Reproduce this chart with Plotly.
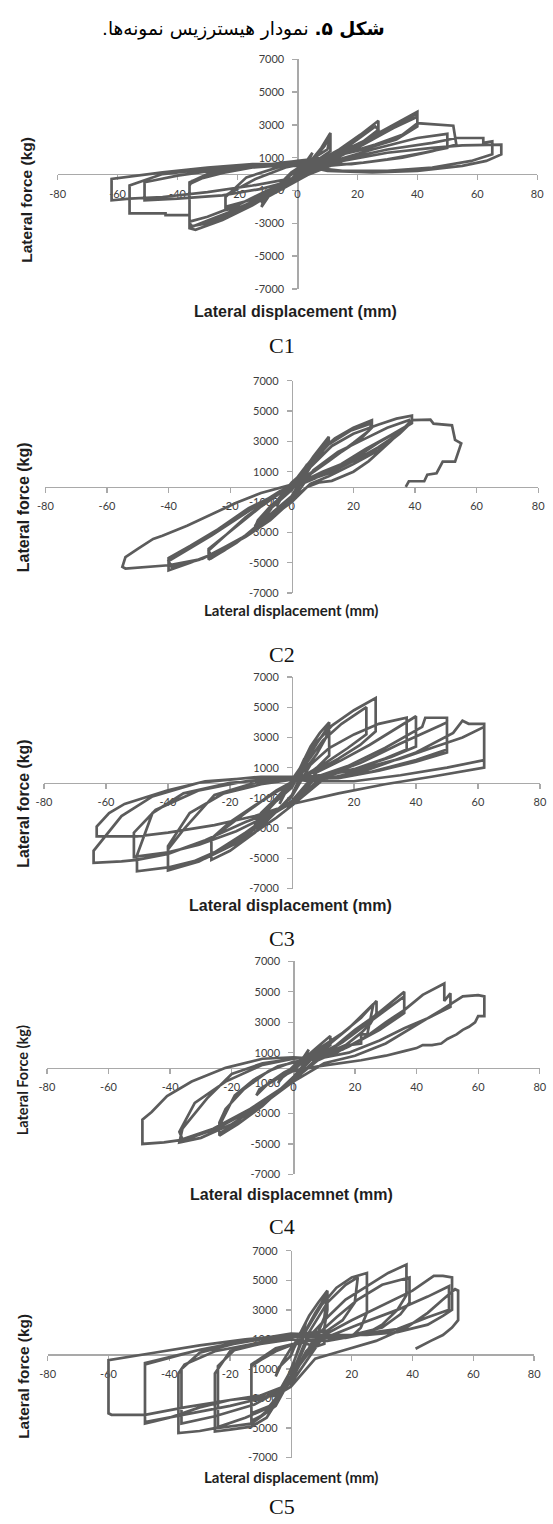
import plotly.graph_objects as go

W, H = 553, 1524

# ---------------- data (displacement mm, force kg) ----------------
c1_pts = [
    (0, 0), (3, 800), (5, 1300), (4, 900), (1, 300), (-3, -500), (-5, -1000), (-4, -700), (-1, -200),
    (4, 700), (8, 1600), (11, 2500), (11, 1400), (7, 900), (2, 500), (-4, -300), (-9, -1200), (-12, -2000), (-11, -1500), (-6, -900), (-1, -300),
    (5, 800), (9, 1700), (11, 2300), (10, 1500), (4, 800), (-2, 100), (-8, -1000), (-12, -1800), (-10, -1300), (-4, -600), (0, -200),
    (6, 700), (14, 1500), (21, 2400), (27, 3250), (27, 2400), (20, 1700), (12, 1100), (4, 700), (-4, 400), (-14, -300), (-24, -1300), (-24, -2200), (-19, -2000), (-10, -1300), (-3, -600),
    (8, 800), (17, 1700), (26, 2900), (27, 2700), (22, 2000), (14, 1300), (5, 800), (-5, 500), (-17, -200), (-24, -1400), (-24, -2000), (-16, -1600), (-6, -900), (0, -300),
    (10, 900), (20, 1800), (30, 2800), (40, 3800), (40, 3100), (35, 2400), (26, 1800), (15, 1200), (5, 900), (-5, 700), (-20, 300), (-35, -400), (-36, -700), (-36, -3300), (-34, -3400), (-25, -2800), (-15, -1900), (-6, -900), (0, -300),
    (10, 800), (22, 1900), (32, 2900), (40, 3700), (40, 2900), (33, 2100), (22, 1500), (10, 1000), (0, 800), (-15, 400), (-30, -100), (-36, -600), (-36, -3200), (-30, -3000), (-20, -2300), (-10, -1400), (0, -400),
    (10, 700), (22, 1800), (32, 2800), (40, 3500), (40, 3100), (52, 2950), (53, 1800), (45, 1400), (35, 1000), (22, 700), (10, 500), (0, 600), (-15, 400), (-30, 0), (-36, -500), (-36, -3000), (-35, -3200), (-28, -2700), (-18, -2000), (-8, -1100), (0, -400),
    (12, 800), (25, 1500), (40, 2200), (50, 2450), (50, 1600), (42, 1300), (30, 900), (18, 600), (5, 600), (-10, 500), (-25, 300), (-40, -100), (-51, -500), (-51, -1600), (-40, -1500), (-25, -1300), (-12, -900), (0, -300),
    (15, 900), (30, 1500), (45, 1900), (53, 2200), (62, 2200), (62, 1900), (65, 2000), (65, 1200), (58, 800), (45, 400), (30, 200), (15, 200), (0, 500), (-15, 500), (-30, 300), (-45, 0), (-56, -700), (-56, -2400), (-44, -2400), (-44, -2500), (-36, -2500), (-36, -2900), (-30, -2600), (-20, -1900), (-10, -1000), (0, -300),
    (15, 800), (30, 1300), (45, 1600), (55, 1750), (68, 1800), (68, 1200), (63, 800), (55, 500), (40, 200), (25, 100), (10, 200), (0, 600), (-15, 600), (-30, 400), (-45, 100), (-62, -300), (-62, -1600), (-56, -1500), (-45, -1400), (-30, -1100), (-15, -700), (0, -200),
]

c2_pts = [
    (0, 0), (2, 600), (5, 1500), (4, 1100), (0, 200), (-3, -600), (-5, -1300), (-4, -900), (0, -200),
    (3, 800), (7, 2000), (10, 2800), (12, 3300), (12, 2900), (9, 2100), (5, 1200), (0, 300), (-4, -700), (-8, -1800), (-12, -2700), (-11, -2200), (-7, -1300), (-2, -400),
    (4, 1200), (8, 2200), (12, 3200), (11, 2600), (6, 1500), (1, 400), (-5, -1000), (-12, -2600), (-10, -2000), (-4, -900), (0, -200),
    (5, 1300), (9, 2300), (14, 3200), (20, 3900), (26, 4400), (26, 3900), (22, 3100), (16, 2300), (9, 1300), (3, 500), (-3, -300), (-10, -1300), (-18, -2600), (-27, -4100), (-27, -4800), (-22, -4200), (-15, -3200), (-8, -2000), (0, -600),
    (6, 1500), (12, 2800), (19, 3700), (26, 4200), (25, 3700), (20, 2900), (12, 1700), (5, 700), (-5, -500), (-15, -2000), (-27, -4200), (-26, -4700), (-18, -3700), (-8, -2100), (0, -700),
    (6, 1300), (13, 2700), (20, 3500), (28, 4100), (34, 4500), (39, 4700), (39, 4200), (34, 3600), (28, 2900), (22, 2100), (15, 1300), (8, 600), (2, 100), (-5, -500), (-14, -1400), (-24, -2800), (-33, -3900), (-40, -4700), (-40, -5500), (-33, -5000), (-24, -4300), (-15, -3300), (-7, -2200), (0, -900),
    (7, 1100), (15, 2300), (23, 3100), (31, 3900), (38, 4400), (38, 4100), (32, 3400), (24, 2500), (16, 1500), (10, 1000), (4, 400), (-4, -300), (-14, -1600), (-26, -3200), (-40, -4900), (-39, -5300), (-30, -4800), (-20, -3900), (-10, -2500), (0, -1000),
    (6, 200), (12, 700), (20, 1500), (28, 2400), (35, 3500), (38, 4100), (36, 3700), (28, 2600), (20, 1700), (12, 900), (5, 400), (0, 150),
    (-10, -400), (-18, -1050), (-26, -1800), (-34, -2560), (-42, -3220), (-45, -3430), (-50, -4090), (-54, -4630), (-55, -5280), (-54, -5390), (-40, -5170), (-29, -4740), (-22, -4000), (-15, -3220), (-10, -2500), (-5, -1700), (0, -830),
    (5, 0), (9, 300), (13, 400), (20, 1000), (25, 1700), (32, 3000), (38, 4200), (39, 4400), (45, 4430), (46, 4170), (52, 4060), (53, 3100), (55, 2870), (54, 2200), (53, 1670), (49, 1670), (47, 900), (44, 800), (43, 370), (38, 370), (37, 0),
]

c3_pts = [
    (0, 0), (2, 700), (4, 1600), (3, 1100), (0, 200), (-2, -600), (-4, -1400), (-3, -900), (0, -100),
    (3, 1200), (6, 2400), (9, 3300), (12, 4000), (12, 1800), (8, 1000), (4, 400), (0, 0), (-4, -800), (-8, -1800), (-12, -3000), (-10, -2300), (-5, -1200), (0, -300),
    (4, 1300), (8, 2600), (12, 3800), (11, 3000), (8, 1900), (4, 800), (0, 100), (-5, -1000), (-12, -2800), (-10, -2000), (-4, -800), (0, -100),
    (4, 1500), (8, 2700), (13, 3800), (20, 4800), (27, 5600), (27, 3400), (22, 2500), (15, 1600), (8, 800), (2, 200), (-5, -600), (-12, -1500), (-20, -2600), (-26, -3700), (-26, -5100), (-20, -4500), (-12, -3300), (-5, -1900), (0, -800),
    (5, 1400), (10, 2800), (16, 3900), (24, 5000), (24, 3200), (18, 2300), (10, 1200), (4, 500), (-5, -500), (-15, -2000), (-26, -3700), (-26, -4800), (-18, -4000), (-8, -2400), (0, -900),
    (6, 1200), (12, 2300), (20, 3200), (28, 3900), (37, 4300), (37, 2200), (30, 1600), (20, 900), (10, 400), (0, 200), (-10, -100), (-22, -700), (-33, -2000), (-40, -4200), (-40, -5700), (-34, -5400), (-25, -4600), (-15, -3300), (-6, -2000), (0, -1200),
    (8, 700), (16, 1500), (25, 2500), (33, 3500), (40, 4400), (40, 2400), (32, 1700), (20, 900), (8, 400), (0, 300), (-12, 0), (-25, -800), (-35, -3100), (-40, -4400), (-40, -5800), (-30, -5200), (-18, -3900), (-8, -2300), (0, -1300),
    (8, 400), (18, 1100), (30, 2300), (42, 3700), (43, 4300), (50, 4300), (50, 2000), (40, 1400), (28, 800), (15, 300), (0, 250), (-15, 100), (-30, -500), (-44, -1800), (-51, -3300), (-51, -4900), (-40, -4600), (-30, -4100), (-18, -3200), (-8, -2200), (0, -1300),
    (10, 400), (22, 1300), (35, 2600), (48, 3800), (50, 4000), (50, 2200), (40, 1500), (25, 700), (10, 300), (0, 300), (-20, 0), (-35, -700), (-45, -2000), (-50, -4800), (-50, -5850), (-40, -5600), (-28, -5000), (-15, -3700), (-5, -2300), (0, -1500),
    (10, 200), (25, 900), (40, 2000), (52, 3300), (55, 4100), (57, 3900), (62, 3900), (62, 1500), (50, 1000), (35, 500), (20, 100), (5, 100), (0, 300), (-15, 300), (-28, 100), (-40, -500), (-54, -1400), (-59, -2000), (-63, -2900), (-63, -3550), (-50, -3550), (-40, -3300), (-25, -2800), (-12, -2200), (0, -1400),
    (15, -700), (30, -100), (45, 400), (62, 1000), (62, 3700), (55, 3000), (45, 2300), (35, 1600), (20, 800), (5, 400), (-10, 400), (-30, 0), (-45, -900), (-55, -2200), (-64, -4500), (-64, -5300), (-55, -5200), (-50, -5100), (-40, -4700), (-28, -3800), (-15, -2600), (0, -1400),
]

c4_pts = [
    (0, 0), (3, 600), (5, 1200), (4, 800), (0, 100), (-3, -500), (-5, -1000), (-4, -700), (0, -100),
    (4, 700), (8, 1400), (12, 2100), (12, 1500), (8, 900), (3, 300), (-3, -300), (-8, -1000), (-12, -1800), (-11, -1400), (-6, -800), (0, -200),
    (5, 800), (10, 1500), (16, 2300), (22, 3300), (27, 4400), (27, 3600), (25, 2900), (22, 2300), (20, 2000), (17, 1500), (10, 900), (3, 500), (-5, 100), (-13, -800), (-19, -1800), (-24, -3800), (-24, -4450), (-18, -3700), (-10, -2500), (-3, -1200), (0, -600),
    (5, 600), (12, 1600), (18, 2600), (23, 3600), (26, 4200), (24, 2200), (22, 2200), (22, 1600), (18, 1500), (14, 1000), (8, 600), (0, 400), (-8, -200), (-16, -1400), (-22, -2700), (-24, -3600), (-24, -4300), (-16, -3400), (-8, -2100), (0, -700),
    (6, 600), (14, 1500), (20, 2500), (27, 3500), (36, 5000), (36, 3800), (30, 3000), (24, 2100), (16, 1200), (8, 700), (0, 600), (-10, 300), (-20, -400), (-28, -2000), (-36, -4000), (-37, -4900), (-30, -4600), (-20, -3700), (-10, -2400), (0, -900),
    (8, 700), (16, 1700), (24, 2900), (30, 3800), (36, 4700), (36, 3600), (28, 2500), (18, 1400), (8, 700), (0, 600), (-10, 200), (-22, -900), (-32, -2300), (-37, -4200), (-36, -4700), (-26, -4000), (-14, -2700), (-5, -1500), (0, -800),
    (8, 500), (18, 1400), (28, 2600), (36, 3800), (42, 4800), (49, 5540), (49, 4400), (51, 4900), (51, 4000), (44, 3300), (36, 2600), (28, 1800), (18, 1000), (8, 600), (0, 700), (-10, 600), (-22, 0), (-33, -900), (-41, -1850), (-46, -2900), (-49, -3400), (-49, -5000), (-42, -4900), (-35, -4700), (-25, -4000), (-15, -2900), (-7, -1800), (0, -900),
    (10, 300), (20, 800), (30, 1600), (40, 2800), (48, 3800), (55, 4700), (60, 4780), (62, 4700), (62, 3400), (60, 3400), (59, 3000), (57, 2700), (55, 2500), (53, 2200), (50, 1900), (48, 1600), (45, 1500), (42, 1500), (40, 1300), (36, 1100), (30, 800), (22, 500), (15, 300), (8, 100), (0, -200),
]

c5_pts = [
    (0, 0), (3, 1200), (5, 2200), (4, 1500), (0, 400), (-3, -600), (-5, -1500), (-4, -900), (0, -100),
    (3, 1400), (6, 2600), (9, 3500), (12, 4300), (12, 3000), (11, 1800), (11, 700), (8, 500), (4, 800), (0, 600), (-5, 200), (-10, -400), (-13, -800), (-13, -4500), (-10, -4200), (-6, -3500), (-3, -2200), (0, -1100),
    (4, 1300), (8, 2800), (12, 4100), (11, 2500), (8, 1000), (3, 800), (-5, 400), (-13, -700), (-13, -4000), (-7, -3500), (-3, -2500), (0, -1000),
    (5, 1600), (10, 3300), (15, 4500), (20, 5200), (25, 5500), (25, 2800), (23, 1800), (20, 1200), (12, 900), (5, 900), (0, 1000), (-10, 700), (-20, 200), (-25, -1300), (-25, -5230), (-20, -5100), (-13, -4900), (-8, -4300), (-4, -3000), (0, -1500),
    (6, 1500), (12, 3500), (18, 4700), (22, 5200), (21, 3500), (17, 2300), (12, 1600), (5, 1300), (-5, 1000), (-18, 400), (-24, -800), (-24, -5000), (-13, -4700), (-5, -3500), (0, -1600),
    (6, 1200), (12, 2500), (18, 3700), (25, 4600), (32, 5500), (38, 6070), (38, 4000), (35, 3000), (30, 2000), (25, 1400), (18, 1100), (10, 1100), (0, 1200), (-10, 800), (-25, 200), (-35, -700), (-37, -1300), (-37, -5340), (-30, -5200), (-25, -5000), (-15, -4300), (-6, -3500), (0, -1800),
    (8, 1200), (15, 2500), (22, 3700), (30, 4700), (39, 5200), (39, 3500), (36, 2700), (30, 1800), (20, 1300), (10, 1200), (0, 1300), (-15, 900), (-30, 100), (-36, -1000), (-36, -4700), (-25, -4200), (-12, -3400), (-4, -2500), (0, -1500),
    (10, 1200), (20, 2300), (30, 3300), (40, 4300), (47, 5300), (50, 5300), (53, 5200), (53, 3000), (50, 2600), (45, 2000), (35, 1500), (25, 1300), (12, 1300), (0, 1400), (-15, 900), (-30, 300), (-48, -700), (-48, -4700), (-40, -4300), (-30, -3600), (-20, -3100), (-10, -2800), (0, -2000),
    (10, 1000), (22, 2000), (35, 3000), (45, 3900), (52, 4600), (52, 3000), (45, 2500), (35, 1700), (20, 1300), (5, 1300), (-10, 1000), (-30, 300), (-48, -600), (-48, -4600), (-35, -4100), (-20, -3500), (-8, -2900), (0, -1800),
    (5, 200), (12, 1600), (8, 1500), (0, 1300), (-15, 1000), (-30, 600), (-45, 100), (-60, -400), (-60, -4000), (-59, -4100), (-48, -4100), (-35, -3600), (-20, -3100), (-5, -2800), (0, -2200),
    (8, -300), (18, 300), (28, 900), (38, 1800), (45, 2800), (50, 3700), (54, 4400), (55, 4300), (55, 2300), (53, 1800), (50, 1300), (46, 900), (43, 600), (41, 370),
]

x_tickvals = [-80, -60, -40, -20, 0, 20, 40, 60, 80]
x_ticktext = ["-80", "-60", "-40", "-20", "0", "20", "40", "60", "80"]
y_tickvals = [-7000, -5000, -3000, -1000, 1000, 3000, 5000, 7000]
y_ticktext = ["-7000", "-5000", "-3000", "-1000", "1000", "3000", "5000", "7000"]

specimen_labels = ["C1", "C2", "C3", "C4", "C5"]
x_titles = ["Lateral displacement (mm)", "Lateral displacement (mm)", "Lateral displacement (mm)",
            "Lateral displacemnet (mm)", "Lateral displacement (mm)"]
y_titles = ["Lateral force (kg)", "Lateral force (kg)", "Lateral force (kg)",
            "Lateral Force (kg)", "Lateral force (kg)"]
fig_title = "<b>شکل ۵.</b> نمودار هیسترزیس نمونه‌ها.\u200f"

# ---------------- layout geometry (pixels) ----------------
# plot area: left, right, top, bottom
areas = [
    (51, 544, 52.7, 284.3),
    (38.4, 545, 377, 591),
    (37, 546.8, 675.7, 889.2),
    (40, 546.6, 962.6, 1177.4),
    (40.8, 540.8, 1254.5, 1463.1),
]
xtitle_pos = [(296, 306.7), (291, 608.3), (290, 906.7), (291, 1197.7), (291, 1482.7)]
ytitle_pos = [(19, 194), (16, 505), (16, 804), (15, 1083), (16, 1381)]
label_pos = [(282, 341.7), (282, 653.3), (282, 940), (282, 1230), (282, 1512)]
xtitle_font = [("Liberation Sans", 16), ("Lato", 15), ("Liberation Sans", 16), ("Liberation Sans", 16), ("Lato", 15)]
ytitle_font = [("Liberation Sans", 15.5), ("Liberation Sans", 16), ("Liberation Sans", 15.8), ("Lato", 14.5), ("Liberation Sans", 15.4)]

all_pts = [c1_pts, c2_pts, c3_pts, c4_pts, c5_pts]

fig = go.Figure()
layout = dict(
    width=W, height=H, margin=dict(l=0, r=0, t=0, b=0),
    paper_bgcolor="white", plot_bgcolor="white", showlegend=False,
)
annotations = []

AX_COL = "#a9a9a9"
TICK_FONT = dict(family="Lato, Noto Sans, sans-serif", size=11, color="#3c3c3c")

for i, pts in enumerate(all_pts):
    n = i + 1
    sx = "" if n == 1 else str(n)
    fig.add_trace(go.Scatter(
        x=[p[0] for p in pts], y=[p[1] for p in pts], mode="lines",
        line=dict(color="#5c5c5c", width=2.7),
        xaxis="x" + sx, yaxis="y" + sx, hoverinfo="skip",
    ))
    l, r, t, b = areas[i]
    xmid = (l + r) / 2
    ymid = (t + b) / 2
    layout["xaxis" + sx] = dict(
        domain=[l / W, r / W], range=[-80, 80], anchor="free", position=1 - ymid / H,
        showline=True, linecolor=AX_COL, linewidth=1.3, ticks="outside", ticklen=5,
        tickcolor=AX_COL, tickwidth=1.3, tickvals=x_tickvals, ticktext=x_ticktext,
        showgrid=False, zeroline=False, tickfont=TICK_FONT, layer="below traces",
        ticklabelstandoff=4, fixedrange=True,
    )
    layout["yaxis" + sx] = dict(
        domain=[1 - b / H, 1 - t / H], range=[-7000, 7000], anchor="free", position=xmid / W,
        showline=True, linecolor=AX_COL, linewidth=1.3, ticks="outside", ticklen=5,
        tickcolor=AX_COL, tickwidth=1.3, tickvals=y_tickvals, ticktext=y_ticktext,
        showgrid=False, zeroline=False, tickfont=TICK_FONT, layer="below traces",
        ticklabelstandoff=6, fixedrange=True,
    )
    fx, fy = xtitle_pos[i]
    annotations.append(dict(
        text="<b>" + x_titles[i] + "</b>", x=fx / W, y=1 - fy / H, xref="paper", yref="paper",
        xanchor="center", yanchor="middle", showarrow=False,
        font=dict(family=xtitle_font[i][0], size=xtitle_font[i][1], color="#1e1e1e"),
    ))
    gx, gy = ytitle_pos[i]
    annotations.append(dict(
        text="<b>" + y_titles[i] + "</b>", x=gx / W, y=1 - gy / H, xref="paper", yref="paper",
        xanchor="center", yanchor="middle", showarrow=False, textangle=-90,
        font=dict(family=ytitle_font[i][0], size=ytitle_font[i][1], color="#1e1e1e"),
    ))
    cx, cy = label_pos[i]
    annotations.append(dict(
        text=specimen_labels[i], x=cx / W, y=1 - cy / H, xref="paper", yref="paper",
        xanchor="center", yanchor="middle", showarrow=False,
        font=dict(family="Liberation Serif", size=22, color="#111111"),
    ))

annotations.append(dict(
    text=fig_title, x=242.5 / W, y=1 - 22 / H, xref="paper", yref="paper",
    xanchor="center", yanchor="middle", showarrow=False,
    font=dict(family="DejaVu Sans", size=18.5, color="#000000"),
))
layout["annotations"] = annotations
fig.update_layout(**layout)
fig.write_html(
    "out.html",
    config={"displayModeBar": False, "staticPlot": True},
    post_script="document.body.style.margin='0px';document.body.style.overflow='hidden';",
)
